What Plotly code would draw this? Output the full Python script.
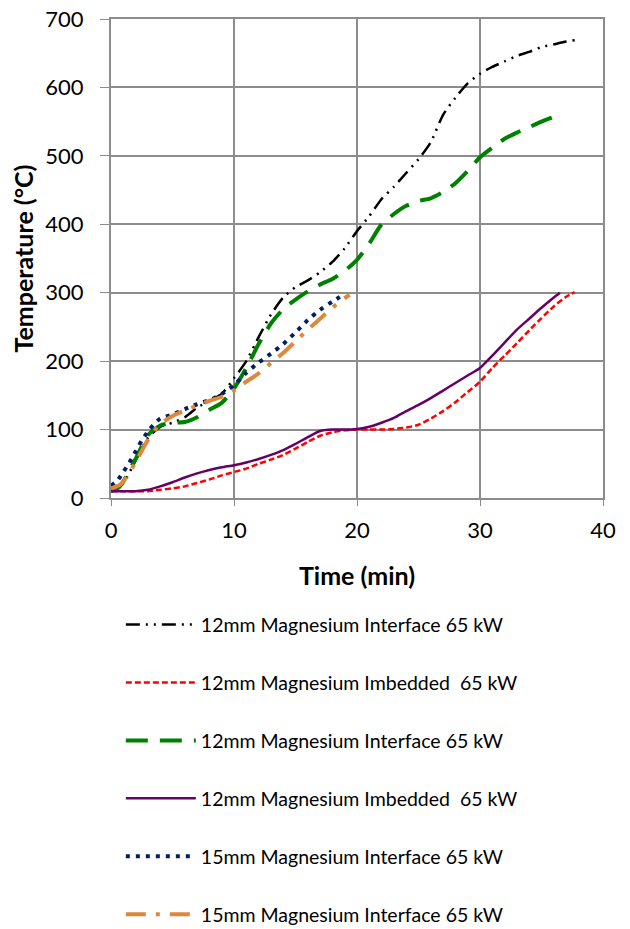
import plotly.graph_objects as go

# ---- data ----
names = [
    "12mm Magnesium Interface 65 kW",
    "12mm Magnesium Imbedded  65 kW",
    "12mm Magnesium Interface 65 kW",
    "12mm Magnesium Imbedded  65 kW",
    "15mm Magnesium Interface 65 kW",
    "15mm Magnesium Interface 65 kW",
]

t_black = [0, 1, 2, 3, 4, 5, 6, 7, 8, 9, 10, 11, 12, 13, 14, 15, 16, 17, 18, 19, 20,
           21, 22, 23, 24, 25, 26, 27, 28, 29, 30, 31, 32, 33, 34, 35, 36, 37, 37.7]
y_black = [12, 22, 55, 88, 104, 110, 118, 132, 142, 152, 175, 200, 235, 268, 293, 308,
           318, 330, 345, 365, 390, 412, 437, 455, 475, 495, 520, 560, 585, 606, 620,
           630, 638, 646, 652, 659, 663, 667, 669]

t_red = [0, 1, 2, 3, 4, 5, 6, 7, 8, 9, 10, 11, 12, 13, 14, 15, 16, 17, 18, 19, 20,
         21, 22, 23, 24, 25, 26, 27, 28, 29, 30, 31, 32, 33, 34, 35, 36, 37, 37.7]
y_red = [10, 10, 10, 10, 12, 14, 17, 22, 27, 33, 38, 43, 50, 56, 63, 72, 82, 91, 96,
         99, 100, 100, 100, 101, 103, 107, 116, 127, 140, 155, 170, 190, 208, 226, 245,
         263, 280, 294, 301]

t_green = [0, 0.6, 1, 2, 3, 4, 5, 6, 7, 8, 9, 10, 11, 12, 13, 14, 15, 16, 17, 18, 19,
           20, 21, 22, 23, 24, 25, 26, 27, 28, 29, 30, 31, 32, 33, 34, 35, 36, 36.7]
y_green = [10, 15, 24, 57, 92, 106, 110, 111, 118, 129, 139, 160, 190, 225, 255, 276,
           290, 302, 312, 320, 332, 348, 372, 400, 415, 427, 434, 438, 447, 460, 478,
           498, 512, 525, 534, 542, 550, 557, 562]

t_purple = [0, 1, 2, 3, 4, 5, 6, 7, 8, 9, 10, 11, 12, 13, 14, 15, 16, 17, 18, 19, 20,
            21, 22, 23, 24, 25, 26, 27, 28, 29, 30, 31, 32, 33, 34, 35, 36, 36.5]
y_purple = [10, 10, 10, 12, 17, 23, 30, 36, 41, 45, 48, 52, 57, 63, 70, 79, 89, 98,
            100, 100, 101, 104, 110, 117, 127, 136, 146, 157, 168, 179, 190, 208, 227,
            246, 262, 278, 293, 300]

t_blue = [0, 0.5, 1, 1.5, 2, 2.5, 3, 3.5, 4, 5, 6, 7, 8, 9, 10, 11, 12, 13, 14, 15,
          16, 17, 18, 18.8]
y_blue = [18, 25, 38, 52, 68, 84, 97, 108, 116, 122, 130, 137, 143, 152, 165, 183,
          198, 211, 225, 242, 260, 275, 287, 296]

t_orange = [0, 0.7, 1, 2, 3, 4, 5, 6, 7, 8, 9, 10, 11, 12, 13, 14, 15, 16, 17, 18, 19,
            19.4]
y_orange = [14, 19, 24, 52, 85, 108, 120, 128, 135, 142, 148, 157, 170, 182, 197, 212,
            229, 246, 262, 278, 292, 297]

x_ticks = [0, 10, 20, 30, 40]
y_ticks = [0, 100, 200, 300, 400, 500, 600, 700]

series = [
    (t_black, y_black, "#000000", 2.5, "14px,6px,2px,6px,2px,6px"),
    (t_red, y_red, "#ff0000", 2.5, "6px,3px"),
    (t_green, y_green, "#008000", 4, "22px,12px"),
    (t_purple, y_purple, "#660066", 2.5, "solid"),
    (t_blue, y_blue, "#002060", 4, "4px,6px"),
    (t_orange, y_orange, "#e0883a", 4, "20px,10px,4px,10px"),
]

fig = go.Figure()
for i, (tx, ty, col, w, dash) in enumerate(series):
    fig.add_trace(go.Scatter(
        x=tx, y=ty, mode="lines", name=names[i], legendgroup=str(i),
        line=dict(color=col, width=w, dash=dash, shape="spline", smoothing=0.6),
    ))

grid = "#8c8c8c"
fig.update_layout(
    width=630, height=929,
    margin=dict(l=103, r=35, t=11, b=439, autoexpand=False),
    paper_bgcolor="white", plot_bgcolor="white",
    font=dict(family="Lato", color="#000000"),
    showlegend=True,
    legend=dict(
        x=0.02, xanchor="left",
        yref="container", y=0.357, yanchor="top",
        font=dict(family="Lato", size=19.5, color="#000000"),
        tracegroupgap=29.6, itemwidth=70,
        bgcolor="rgba(0,0,0,0)",
    ),
    xaxis=dict(
        range=[0, 40], tickvals=x_ticks, showgrid=True, gridcolor=grid, gridwidth=2,
        showline=True, mirror=True, linecolor=grid, linewidth=2, zeroline=False,
        automargin=False, ticklabeloverflow="allow",
        ticks="outside", ticklen=6, tickcolor=grid, tickwidth=1, ticklabelstandoff=6,
        tickfont=dict(family="Lato", size=22),
        title=dict(text="<b>Time (min)</b>", font=dict(family="Lato", size=25), standoff=25),
    ),
    yaxis=dict(
        range=[0, 700], tickvals=y_ticks, showgrid=True, gridcolor=grid, gridwidth=2,
        showline=True, mirror=True, linecolor=grid, linewidth=2, zeroline=False,
        automargin=False, ticklabeloverflow="allow",
        ticks="outside", ticklen=9, tickcolor=grid, tickwidth=1, ticklabelstandoff=12,
        tickfont=dict(family="Lato", size=22),
        title=dict(text="<b>Temperature (°C)</b>", font=dict(family="Lato", size=25), standoff=8),
    ),
)

fig.write_html("out.html")
